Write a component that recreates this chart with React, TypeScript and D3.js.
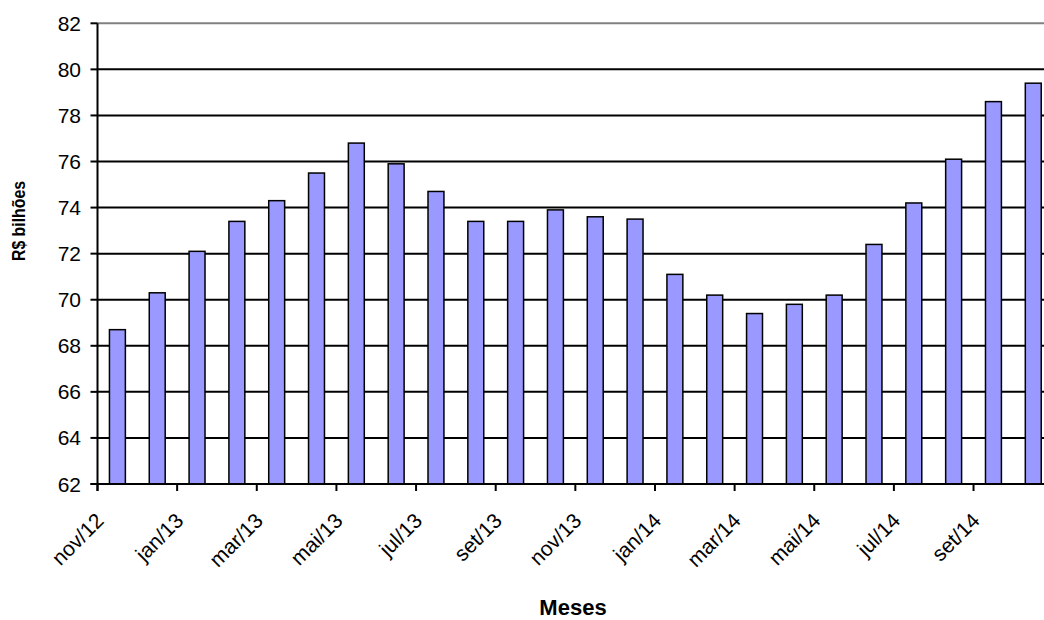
import React, { useEffect, useRef } from "react";
import * as d3 from "d3";

const months = ["nov/12","dez/12","jan/13","fev/13","mar/13","abr/13","mai/13","jun/13","jul/13","ago/13","set/13","out/13","nov/13","dez/13","jan/14","fev/14","mar/14","abr/14","mai/14","jun/14","jul/14","ago/14","set/14","out/14"];
const values = [68.7, 70.3, 72.1, 73.4, 74.3, 75.5, 76.8, 75.9, 74.7, 73.4, 73.4, 73.9, 73.6, 73.5, 71.1, 70.2, 69.4, 69.8, 70.2, 72.4, 74.2, 76.1, 78.6, 79.4];
const yTicks = [62, 64, 66, 68, 70, 72, 74, 76, 78, 80, 82];
const tickMonths = months.filter((_, i) => i % 2 === 0);
const yTitle = "R$ bilhões";
const xTitle = "Meses";

const W = 1044, H = 620;
const FONT = "'Liberation Sans', Arial, sans-serif";

export default function App() {
  const ref = useRef<SVGSVGElement>(null);
  useEffect(() => {
    const svg = d3.select(ref.current);
    svg.selectAll("*").remove();
    const left = 97.5, step = 39.82;
    const x = d3.scaleBand<string>().domain(months).range([left, left + step * months.length]).paddingInner(0.6).paddingOuter(0.3);
    const y = d3.scaleLinear().domain([62, 82]).range([484, 23.3]);
    const bandStart = (m: string) => (x(m) as number) - x.step() * 0.3;

    // gridlines
    svg.append("g").selectAll("line").data(yTicks.filter(t => t > 62)).join("line")
      .attr("x1", left).attr("x2", W).attr("y1", d => y(d)).attr("y2", d => y(d))
      .attr("stroke", d => d === 82 ? "#808080" : "#000").attr("stroke-width", 2);

    // bars
    svg.append("g").selectAll("rect").data(values).join("rect")
      .attr("x", (_, i) => x(months[i]) as number)
      .attr("width", x.bandwidth())
      .attr("y", d => y(d))
      .attr("height", d => y(62) - y(d))
      .attr("fill", "#9999FF").attr("stroke", "#000").attr("stroke-width", 1.5);

    // axes lines
    svg.append("line").attr("x1", left).attr("x2", left).attr("y1", y(82)).attr("y2", y(62) + 7)
      .attr("stroke", "#000").attr("stroke-width", 2);
    svg.append("line").attr("x1", left - 7).attr("x2", W).attr("y1", y(62)).attr("y2", y(62))
      .attr("stroke", "#000").attr("stroke-width", 2);

    // y ticks
    const yt = svg.append("g");
    yt.selectAll("line").data(yTicks).join("line")
      .attr("x1", left - 7).attr("x2", left).attr("y1", d => y(d)).attr("y2", d => y(d))
      .attr("stroke", "#000").attr("stroke-width", 2);
    yt.selectAll("text").data(yTicks).join("text")
      .attr("x", 81).attr("y", d => y(d)).attr("dy", "0.36em")
      .attr("text-anchor", "end").attr("font-family", FONT).attr("font-size", 21).attr("fill", "#000")
      .text(d => String(d));

    // x ticks
    const xt = svg.append("g");
    xt.selectAll("line").data(tickMonths).join("line")
      .attr("x1", d => bandStart(d)).attr("x2", d => bandStart(d)).attr("y1", y(62)).attr("y2", y(62) + 7)
      .attr("stroke", "#000").attr("stroke-width", 2);
    xt.selectAll("text").data(tickMonths).join("text")
      .attr("transform", d => `translate(${bandStart(d) + 7.5},${y(62) + 38}) rotate(-45)`)
      .attr("text-anchor", "end")
      .attr("font-family", FONT).attr("font-size", 21).attr("fill", "#000")
      .text(d => d);

    // titles
    svg.append("text").attr("transform", `translate(25,221) rotate(-90)`)
      .attr("text-anchor", "middle").attr("font-family", FONT).attr("font-weight", "bold")
      .attr("font-size", 18).attr("textLength", 80).attr("lengthAdjust", "spacingAndGlyphs")
      .attr("fill", "#000").text(yTitle);
    svg.append("text").attr("x", 573).attr("y", 615)
      .attr("text-anchor", "middle").attr("font-family", FONT).attr("font-weight", "bold")
      .attr("font-size", 22).attr("fill", "#000").text(xTitle);
  }, []);
  return (
    <svg ref={ref} width={W} height={H} style={{ position: "absolute", left: 0, top: 0, background: "#fff" }} />
  );
}
